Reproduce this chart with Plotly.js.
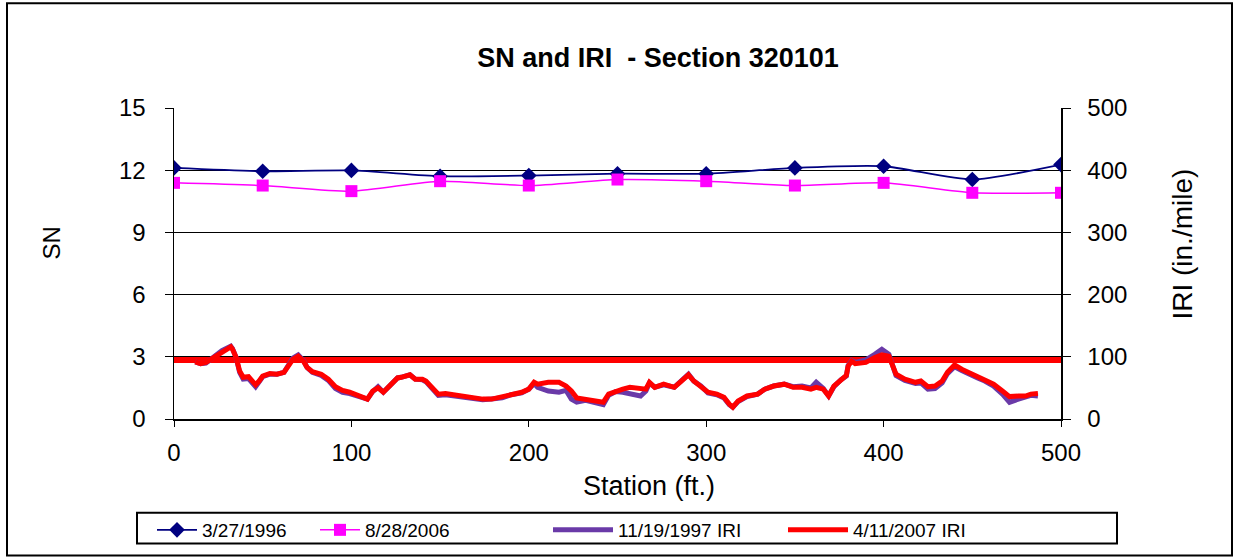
<!DOCTYPE html>
<html>
<head>
<meta charset="utf-8">
<script src="https://cdn.plot.ly/plotly-3.0.1.min.js"></script>
<style>
  html, body { margin: 0; padding: 0; background: #fff; }
  #chart { width: 1238px; height: 560px; }
</style>
</head>
<body>
<div id="chart"></div>
<script>
// ---- data ----
const snStations = [0, 50, 100, 150, 200, 250, 300, 350, 400, 450, 500];
const sn1996 = [12.11, 11.95, 11.99, 11.71, 11.74, 11.83, 11.83, 12.11, 12.19, 11.55, 12.27];
const sn2006 = [11.39, 11.26, 10.99, 11.47, 11.26, 11.55, 11.47, 11.26, 11.39, 10.91, 10.91];

const iriStations = [12, 15, 18, 22, 27, 32, 33, 35, 37, 39, 42, 46, 48, 50, 54, 58, 62, 64, 67, 70,
  73, 75, 78, 83, 87, 91, 95, 99, 104, 109, 112, 115, 118, 122, 126, 128, 133, 136, 140, 142,
  145, 149, 153, 158, 162, 168, 174, 179, 185, 190, 196, 200, 203, 205, 211, 217, 221, 224, 227, 232,
  237, 242, 245, 249, 253, 257, 263, 266, 268, 271, 276, 282, 286, 290, 293, 297, 301, 306, 310, 313,
  315, 318, 323, 329, 333, 338, 344, 349, 354, 359, 362, 366, 369, 372, 376, 379, 380, 382, 384, 390,
  395, 399, 403, 405, 407, 412, 418, 421, 425, 429, 433, 436, 440, 444, 450, 453, 457, 462, 467, 471,
  476, 480, 483, 487];
const iri2007 = [92, 89, 91, 98, 109, 116, 112, 99, 77, 67, 68, 55, 61, 69, 73, 72, 75, 83, 96, 101,
  93, 83, 76, 72, 64, 52, 46, 43, 37, 32, 45, 50, 43, 56, 66, 67, 71, 64, 64, 61,
  51, 40, 41, 39, 36, 34, 32, 32, 35, 39, 43, 48, 59, 56, 59, 59, 53, 45, 34, 32,
  29, 27, 40, 45, 48, 51, 48, 48, 59, 51, 56, 51, 61, 71, 61, 53, 43, 40, 35, 24,
  19, 29, 37, 40, 48, 53, 56, 51, 51, 48, 51, 48, 37, 53, 64, 70, 85, 93, 89, 91,
  99, 103, 101, 88, 72, 64, 59, 61, 52, 53, 61, 75, 87, 80, 72, 69, 64, 56, 45, 36,
  37, 37, 40, 41];
const iri1997 = [92, 89, 90, 98, 110, 117, 113, 99, 75, 64, 65, 52, 59, 68, 72, 72, 75, 84, 98, 103,
  94, 83, 75, 70, 62, 49, 43, 41, 36, 32, 44, 52, 43, 55, 66, 67, 71, 64, 63, 60,
  50, 38, 39, 37, 35, 33, 31, 32, 34, 39, 42, 48, 57, 51, 45, 43, 46, 32, 27, 30,
  27, 23, 38, 44, 43, 40, 37, 45, 58, 51, 55, 51, 61, 72, 61, 53, 42, 39, 34, 23,
  19, 28, 36, 40, 48, 53, 56, 52, 53, 50, 59, 49, 37, 52, 63, 69, 86, 94, 91, 95,
  104, 112, 104, 89, 70, 62, 57, 58, 48, 49, 58, 73, 84, 78, 69, 66, 61, 53, 40, 27,
  32, 35, 38, 37];

const thresholdStations = [0, 500];
const thresholdIRI = [95, 95];

// ---- geometry helpers (pixel -> paper) ----
const W = 1238, H = 560;
const L = 174, R = 1061, T = 108, B = 420;
const px = x => (x - L) / (R - L);
const py = y => (B - y) / (B - T);
const FONT = 'Liberation Sans, Arial, sans-serif';

const traces = [
  { x: thresholdStations, y: thresholdIRI, yaxis: 'y2', mode: 'lines',
    line: { color: '#ff0000', width: 6 }, showlegend: false, hoverinfo: 'skip' },
  { x: snStations, y: sn1996, name: '3/27/1996', mode: 'lines+markers', legend: 'legend',
    line: { color: '#000080', width: 1.8, shape: 'spline', smoothing: 0.6 },
    marker: { symbol: 'diamond', size: 12, color: '#000080' } },
  { x: snStations, y: sn2006, name: '8/28/2006', mode: 'lines+markers', legend: 'legend2',
    line: { color: '#ff00ff', width: 1.5, shape: 'spline', smoothing: 0.6 },
    marker: { symbol: 'square', size: 12, color: '#ff00ff' } },
  { x: iriStations, y: iri1997, name: '11/19/1997 IRI', mode: 'lines', yaxis: 'y2', legend: 'legend3',
    line: { color: '#6a3aa8', width: 5 } },
  { x: iriStations, y: iri2007, name: '4/11/2007 IRI', mode: 'lines', yaxis: 'y2', legend: 'legend4',
    line: { color: '#ff0000', width: 5 } }
];

const legendBase = {
  orientation: 'h', bgcolor: 'rgba(0,0,0,0)', borderwidth: 0,
  font: { family: FONT, size: 19, color: '#000' },
  xanchor: 'left', yanchor: 'middle', y: py(530), itemwidth: 40
};

const axisFont = { family: FONT, size: 24, color: '#000' };

const layout = {
  width: W, height: H,
  margin: { l: L, r: W - R, t: T, b: H - B, pad: 0 },
  paper_bgcolor: '#ffffff', plot_bgcolor: '#ffffff',
  showlegend: true,
  title: { text: 'SN and IRI  - Section 320101', xref: 'container', yref: 'container',
    x: 658 / W, y: 1 - 58 / H, xanchor: 'center', yanchor: 'middle',
    font: { family: FONT, size: 27, color: '#000', weight: 'bold' } },
  xaxis: { range: [0, 500], tickmode: 'linear', tick0: 0, dtick: 100,
    ticks: 'outside', ticklen: 6, tickcolor: '#000', tickwidth: 1,
    showline: true, linecolor: '#000', linewidth: 1.5, showgrid: false, zeroline: false,
    tickfont: axisFont, ticklabelstandoff: 6, fixedrange: true },
  yaxis: { range: [0, 15], tickmode: 'linear', tick0: 0, dtick: 3,
    ticks: 'outside', ticklen: 8, tickcolor: '#000', tickwidth: 1,
    showline: true, linecolor: '#000', linewidth: 1.5,
    showgrid: true, gridcolor: '#000', gridwidth: 1, zeroline: false,
    tickfont: axisFont, ticklabelstandoff: 14, fixedrange: true },
  yaxis2: { range: [0, 500], tickmode: 'linear', tick0: 0, dtick: 100, overlaying: 'y', side: 'right',
    ticks: 'outside', ticklen: 8, tickcolor: '#000', tickwidth: 1,
    showline: true, linecolor: '#000', linewidth: 1.5, showgrid: false, zeroline: false,
    tickfont: axisFont, ticklabelstandoff: 12, fixedrange: true },
  legend: Object.assign({}, legendBase, { x: px(152) }),
  legend2: Object.assign({}, legendBase, { x: px(315) }),
  legend3: Object.assign({}, legendBase, { x: px(548), itemwidth: 60 }),
  legend4: Object.assign({}, legendBase, { x: px(783), itemwidth: 60 }),
  annotations: [
    { text: 'SN', xref: 'paper', yref: 'paper', x: px(52), y: py(244), textangle: -90,
      showarrow: false, xanchor: 'center', yanchor: 'middle', font: { family: FONT, size: 24, color: '#000' } },
    { text: 'IRI (in./mile)', xref: 'paper', yref: 'paper', x: px(1183), y: py(245), textangle: -90,
      showarrow: false, xanchor: 'center', yanchor: 'middle', font: { family: FONT, size: 28, color: '#000' } },
    { text: 'Station (ft.)', xref: 'paper', yref: 'paper', x: px(649), y: py(487),
      showarrow: false, xanchor: 'center', yanchor: 'middle', font: { family: FONT, size: 27, color: '#000' } }
  ],
  shapes: [
    { type: 'rect', xref: 'paper', yref: 'paper', x0: px(7), x1: px(1232), y0: py(557), y1: py(3),
      line: { color: '#000', width: 2 }, fillcolor: 'rgba(0,0,0,0)', layer: 'below' },
    { type: 'rect', xref: 'paper', yref: 'paper', x0: px(137), x1: px(1117), y0: py(545), y1: py(514),
      line: { color: '#000', width: 2 }, fillcolor: 'rgba(0,0,0,0)', layer: 'above' }
  ]
};

Plotly.newPlot('chart', traces, layout, { staticPlot: true, displayModeBar: false });
</script>
</body>
</html>
